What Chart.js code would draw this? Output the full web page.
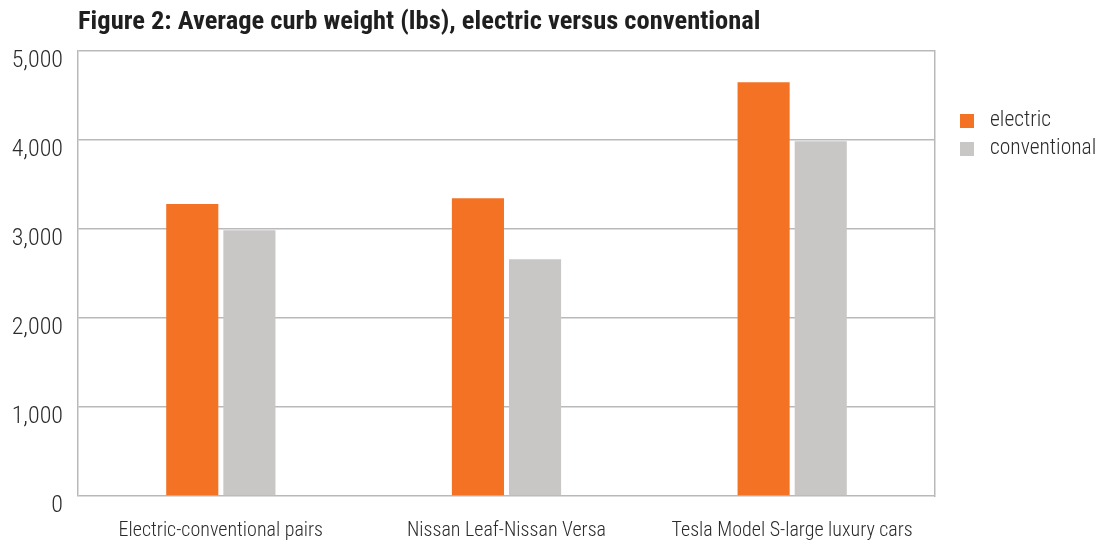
<!DOCTYPE html>
<html>
<head>
<meta charset="utf-8">
<title>Average curb weight</title>
<script src="https://cdn.jsdelivr.net/npm/chart.js@4/dist/chart.umd.min.js"></script>
<style>
  html, body { margin: 0; padding: 0; background: #fff; }
  #wrap { width: 1104px; height: 544px; position: relative; }
</style>
</head>
<body>
<div id="wrap"><canvas id="chart"></canvas></div>
<script>
// values (lbs)
const categories = ['Electric-conventional pairs', 'Nissan Leaf-Nissan Versa', 'Tesla Model S-large luxury cars'];
const electricWeights = [3280, 3345, 4650];
const conventionalWeights = [2985, 2660, 3985];
const yTicks = [0, 1000, 2000, 3000, 4000, 5000];
const titleText = 'Figure 2: Average curb weight (lbs), electric versus conventional';

const ORANGE = '#f37224';
const GREY = '#c8c7c5';
const LINE = '#b9b9bb';
const TEXT = '#2b2b2b';
const FONT = '"Roboto Condensed", "Liberation Sans", sans-serif';

// title sits over the plot, starting at its left edge
const titlePlugin = {
  id: 'leftTitle',
  afterDraw(chart) {
    const ctx = chart.ctx;
    ctx.save();
    ctx.font = 'bold 26.5px ' + FONT;
    ctx.fillStyle = '#1f1f1f';
    ctx.textBaseline = 'alphabetic';
    ctx.textAlign = 'left';
    ctx.fillText(titleText, chart.chartArea.left, 29);
    ctx.restore();
  }
};

// legend to the right of the plot, near the top
const sideLegend = {
  id: 'sideLegend',
  afterDraw(chart) {
    const ctx = chart.ctx;
    const x = chart.chartArea.right + 25;
    let y = 121;
    ctx.save();
    ctx.font = '300 21.5px ' + FONT;
    ctx.textBaseline = 'middle';
    ctx.textAlign = 'left';
    chart.data.datasets.forEach((ds) => {
      ctx.fillStyle = ds.backgroundColor;
      ctx.fillRect(x, y - 7, 14, 14);
      ctx.fillStyle = TEXT;
      ctx.fillText(ds.label, x + 30, y);
      y += 28;
    });
    ctx.restore();
  }
};

new Chart(document.getElementById('chart'), {
  type: 'bar',
  data: {
    labels: categories,
    datasets: [
      {
        label: 'electric',
        data: electricWeights,
        backgroundColor: ORANGE,
        categoryPercentage: 0.4,
        barPercentage: 0.912,
      },
      {
        label: 'conventional',
        data: conventionalWeights,
        backgroundColor: GREY,
        categoryPercentage: 0.4,
        barPercentage: 0.912,
      },
    ],
  },
  options: {
    responsive: true,
    maintainAspectRatio: false,
    animation: false,
    layout: { padding: { top: 51, right: 169, left: 0, bottom: 0 } },
    plugins: {
      legend: { display: false },
      title: { display: false },
      tooltip: { enabled: false },
    },
    scales: {
      x: {
        afterFit: (scale) => { scale.height = 48; },
        grid: { display: false },
        border: { display: false },
        ticks: {
          color: TEXT,
          padding: 15,
          maxRotation: 0,
          autoSkip: false,
          font: { family: FONT, size: 20, weight: 300 },
        },
      },
      y: {
        min: 0,
        max: 5000,
        afterFit: (scale) => { scale.width = 78; },
        afterBuildTicks: (scale) => { scale.ticks = yTicks.map((v) => ({ value: v })); },
        grid: { drawTicks: false, color: LINE, lineWidth: 1.5 },
        border: { display: true, color: LINE, width: 1.5 },
        ticks: {
          color: TEXT,
          padding: 15,
          labelOffset: 10,
          font: { family: FONT, size: 24, weight: 300 },
          callback: (v) => v.toLocaleString('en-US'),
        },
      },
      // right edge of the frame
      yRight: {
        position: 'right',
        min: 0,
        max: 5000,
        afterFit: (scale) => { scale.width = 0; },
        grid: { display: false },
        border: { display: true, color: LINE, width: 1.5 },
        ticks: { display: false },
      },
    },
  },
  plugins: [titlePlugin, sideLegend],
});
</script>
</body>
</html>
